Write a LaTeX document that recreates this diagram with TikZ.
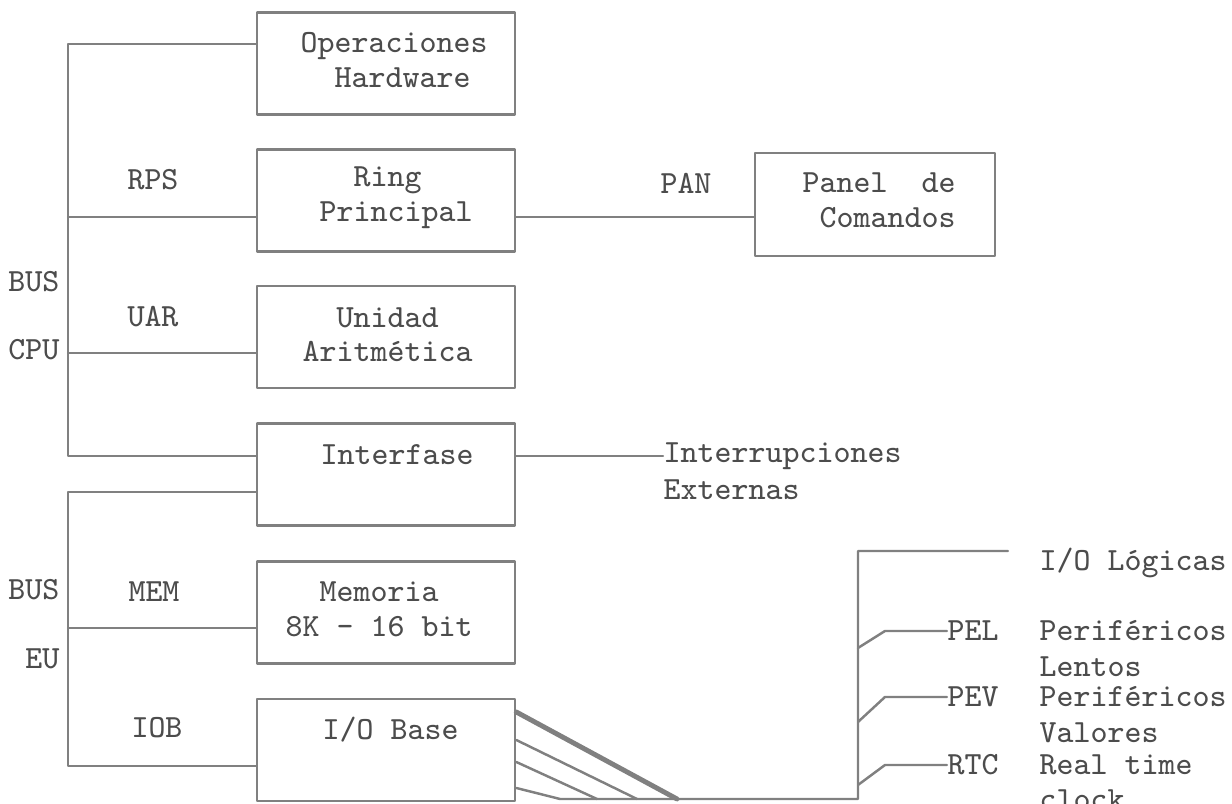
\documentclass[tikz,border=0pt]{standalone}
\usepackage{fontspec}

\begin{document}
\begin{tikzpicture}[x=0.01cm, y=-0.01cm, line join=round, line cap=round,
    wire/.style={draw=black!50, line width=0.7pt},
    unit/.style={draw=black!50, line width=0.7pt, minimum width=2.58cm, minimum height=1.02cm, inner sep=0pt},
    txt/.style={text=black!70, font=\ttfamily\fontsize{9.2}{9.8}\selectfont, inner sep=0pt}]
  \useasboundingbox (0,0) rectangle (1232,804);

  % bloques
  \node[unit] (ops)  at (386,63.5)  {};
  \node[unit] (ring) at (386,200.5) {};
  \node[unit] (uar)  at (386,337)   {};
  \node[unit] (intf) at (386,474.5) {};
  \node[unit] (mem)  at (386,612.5) {};
  \node[unit] (iob)  at (386,750)   {};
  \node[unit, minimum width=2.4cm, minimum height=1.03cm] (panel) at (875,204.5) {};

  \node[txt, anchor=west, align=left] (ops-t)   at (300,60)    {Operaciones\\\ \ Hardware};
  \node[txt, anchor=west, align=left] (ring-t)  at (319,197.5) {\ \ Ring\\Principal};
  \node[txt, anchor=west, align=left] (uar-t)   at (302,334.5) {\ \ Unidad\\Aritmética};
  \node[txt, anchor=west]             (intf-t)  at (320,455)   {Interfase};
  \node[txt, anchor=west, align=left] (mem-t)   at (285,609.5) {\ \ Memoria\\8K - 16 bit};
  \node[txt, anchor=west]             (iob-t)   at (322,730)   {I/O Base};
  \node[txt, anchor=west, align=left] (panel-t) at (802,200.5) {Panel\ \ de\\\ Comandos};

  % etiquetas de bus
  \node[txt] (rps)   at (153,180) {RPS};
  \node[txt] (uar-l) at (153,317) {UAR};
  \node[txt] (mem-l) at (154,592) {MEM};
  \node[txt] (iob-l) at (157,728) {IOB};
  \node[txt] (pan)   at (686,183) {PAN};
  \node[txt, anchor=east] (bus-a) at (60,282) {BUS};
  \node[txt, anchor=east] (cpu)   at (60,350) {CPU};
  \node[txt, anchor=east] (bus-b) at (60,590) {BUS};
  \node[txt, anchor=east] (eu)    at (60,659) {EU};

  \node[txt, anchor=west] (intr-a) at (663,456) {Interrupciones};
  \node[txt, anchor=west] (intr-b) at (663,490) {Externas};

  % salidas de I/O
  \node[txt, anchor=west] (iol)   at (1039,563) {I/O Lógicas};
  \node[txt, anchor=west] (pel)   at (947,631)  {PEL};
  \node[txt, anchor=west] (pel-a) at (1039,631) {Periféricos};
  \node[txt, anchor=west] (pel-b) at (1039,667) {Lentos};
  \node[txt, anchor=west] (pev)   at (947,697)  {PEV};
  \node[txt, anchor=west] (pev-a) at (1039,697) {Periféricos};
  \node[txt, anchor=west] (pev-b) at (1039,733) {Valores};
  \node[txt, anchor=west] (rtc)   at (947,765)  {RTC};
  \node[txt, anchor=west] (rtc-a) at (1039,765) {Real time};
  \node[txt, anchor=west] (rtc-b) at (1039,800) {clock};

  % bus CPU
  \draw[wire] (ops.west |- 0,44) -| (68,456) -- (intf.west |- 0,456);
  \draw[wire] (ring.west |- 0,217) -- (68,217);
  \draw[wire] (uar.west |- 0,353) -- (68,353);
  % bus EU
  \draw[wire] (intf.west |- 0,492) -| (68,766) -- (iob.west |- 0,766);
  \draw[wire] (mem.west |- 0,628) -- (68,628);

  \draw[wire] (ring.east |- 0,217) -- (panel.west |- 0,217);
  \draw[wire] (intf.east |- 0,456) -- (intr-a.west);

  % abanico I/O Base
  \coordinate (io-c) at (858,799);
  \coordinate (io-t) at (858,551);
  \draw[wire, line width=1.4pt] (iob.east |- 0,712) -- (677,799);
  \draw[wire] (iob.east |- 0,740) -- (637,799);
  \draw[wire] (iob.east |- 0,762) -- (597,799);
  \draw[wire] (iob.east |- 0,788) -- (560,799) -- (io-c) -- (io-t) -- (1008,551);
  \draw[wire] (858,648) -- (885,631) -- (pel.west);
  \draw[wire] (858,722) -- (885,697) -- (pev.west);
  \draw[wire] (858,785) -- (885,765) -- (rtc.west);
\end{tikzpicture}
\end{document}
